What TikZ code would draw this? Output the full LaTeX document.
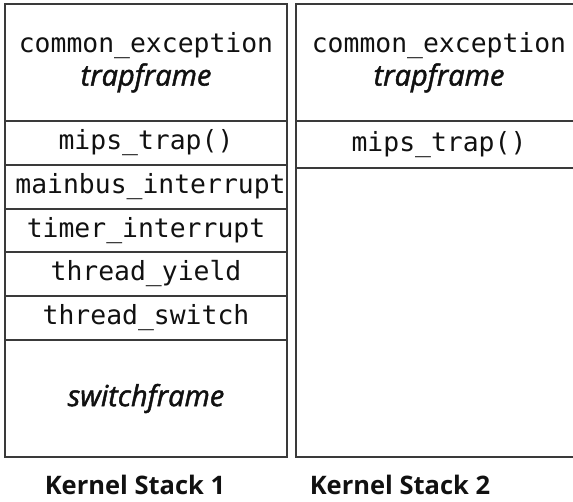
\documentclass[tikz,border=0pt]{standalone}
\usepackage{fontspec}
\setmainfont{Open Sans}
\setmonofont{DejaVu Sans Mono}
\newfontfamily\semifont[ItalicFeatures={FakeBold=1.6}]{Open Sans}
\usetikzlibrary{positioning}
\definecolor{cLine}{HTML}{3A3A3A}
\definecolor{cInk}{HTML}{111111}
\tikzset{
  cell/.style={draw=cLine,line width=1.4pt,anchor=north west,inner sep=0pt,outer sep=0pt,
               align=center,text=cInk,font=\fontsize{26.4}{33}\selectfont\ttfamily},
  lcell/.style={cell,minimum width=282pt},
  rcell/.style={cell,minimum width=286pt},
  frametext/.style={font=\fontsize{29}{33}\selectfont\semifont\itshape},
  caption/.style={font=\fontsize{25.5}{30}\selectfont\bfseries,text=cInk}
}
\newcommand{\framename}[1]{{\fontsize{29}{33}\selectfont\semifont\itshape #1}}

\begin{document}
\begin{tikzpicture}[x=1pt,y=-1pt]
  \useasboundingbox (0,0) rectangle (573,501);
  % left stack
  \node[lcell,minimum height=117pt] (lexc) at (5,4)
    {common\_exception\\\framename{trapframe}};
  \node[lcell,minimum height=44pt] (lmips) at (5,121) {mips\_trap()};
  \node[lcell,minimum height=44pt] (lbus) at (5,165) {\hspace*{9pt}mainbus\_interrupt};
  \node[lcell,minimum height=43pt] (ltimer) at (5,209) {timer\_interrupt};
  \node[lcell,minimum height=44pt] (lyield) at (5,252) {thread\_yield};
  \node[lcell,minimum height=44pt] (lswitch) at (5,296) {thread\_switch};
  \node[lcell,minimum height=117pt,frametext] (lframe) at (5,340) {switchframe};
  % right stack
  \node[rcell,minimum height=117pt] (rexc) at (296,4)
    {common\_exception\\\framename{trapframe}};
  \node[rcell,minimum height=47pt] (rmips) at (296,121) {mips\_trap()};
  \node[rcell,minimum height=289pt] (rfree) at (296,168) {};
  % captions
  \node[caption] (cap1) at (135,485) {Kernel Stack 1};
  \node[caption] (cap2) at (400,485) {Kernel Stack 2};
\end{tikzpicture}
\end{document}
